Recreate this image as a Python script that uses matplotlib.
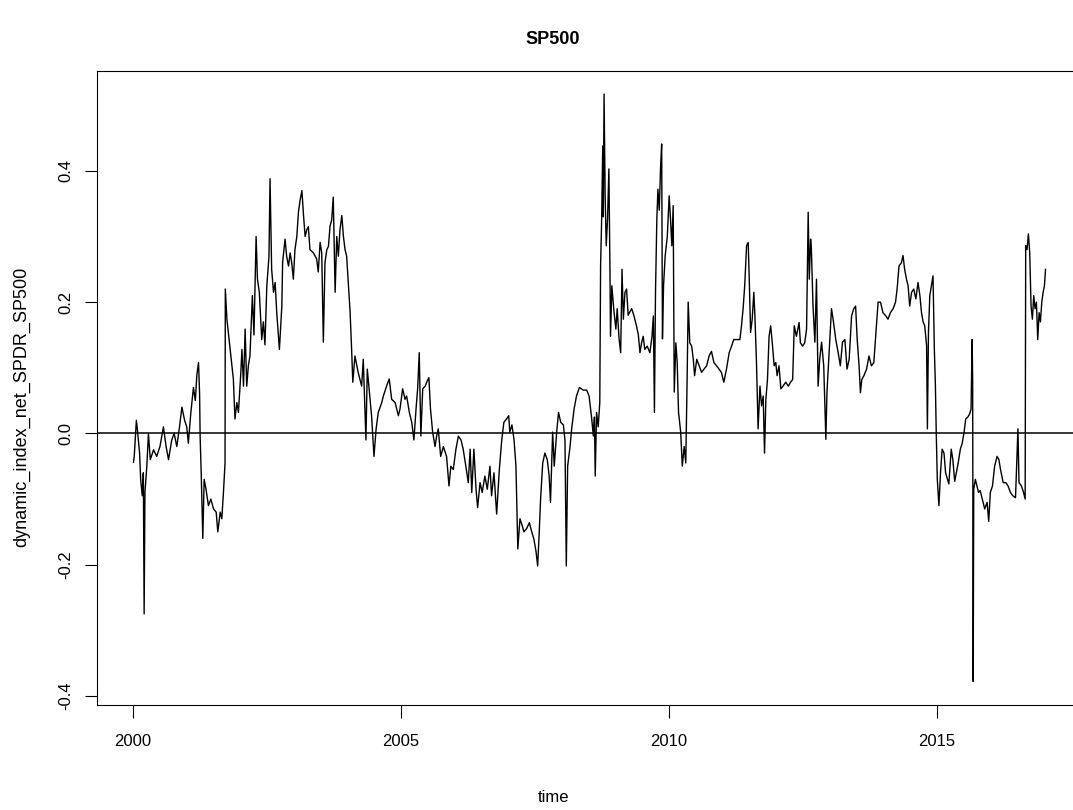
import matplotlib
matplotlib.use("Agg")
import matplotlib.pyplot as plt

plt.rcParams['font.family'] = ['Liberation Sans', 'DejaVu Sans']

# dynamic index readings (decimal year, value)
years_2000 = [2000.006, 2000.02, 2000.06, 2000.08, 2000.12, 2000.14, 2000.17, 2000.19, 2000.205, 2000.22,
              2000.255, 2000.285, 2000.32, 2000.38, 2000.44, 2000.50, 2000.565, 2000.615, 2000.66, 2000.72,
              2000.765, 2000.815, 2000.865, 2000.91, 2000.96, 2001.00, 2001.03, 2001.075, 2001.125, 2001.16,
              2001.19, 2001.22, 2001.24, 2001.25, 2001.27, 2001.30, 2001.325, 2001.36, 2001.405, 2001.45,
              2001.50, 2001.55, 2001.58, 2001.625, 2001.655, 2001.685, 2001.715]
vals_2000 = [-0.044, -0.035, 0.02, 0.005, -0.03, -0.07, -0.095, -0.06, -0.275, -0.09,
             -0.05, 0.0, -0.04, -0.025, -0.035, -0.02, 0.01, -0.02, -0.04, -0.01,
             0.0, -0.02, 0.01, 0.04, 0.02, 0.01, -0.015, 0.03, 0.07, 0.05,
             0.09, 0.108, 0.06, -0.005, -0.06, -0.16, -0.07, -0.085, -0.11, -0.10,
             -0.115, -0.12, -0.15, -0.12, -0.13, -0.09, -0.045]

years_2002 = [2001.72, 2001.75, 2001.81, 2001.87, 2001.90, 2001.935, 2001.965, 2002.01, 2002.03, 2002.06,
              2002.09, 2002.12, 2002.15, 2002.18, 2002.225, 2002.255, 2002.295, 2002.32, 2002.355, 2002.40,
              2002.43, 2002.46, 2002.495, 2002.535, 2002.555, 2002.585, 2002.62, 2002.65, 2002.68, 2002.73,
              2002.775, 2002.79, 2002.835, 2002.865, 2002.90, 2002.93, 2002.96, 2002.99, 2003.02, 2003.055,
              2003.085, 2003.115, 2003.15, 2003.18, 2003.21, 2003.24, 2003.27, 2003.30, 2003.365, 2003.425,
              2003.455, 2003.49, 2003.52, 2003.55, 2003.58, 2003.615, 2003.645, 2003.675, 2003.705, 2003.735,
              2003.77, 2003.80, 2003.83, 2003.86, 2003.895, 2003.925, 2003.955, 2003.985, 2004.015, 2004.05,
              2004.08, 2004.10, 2004.14, 2004.20]
vals_2002 = [0.22, 0.174, 0.128, 0.083, 0.022, 0.047, 0.032, 0.093, 0.128, 0.072,
             0.159, 0.072, 0.103, 0.118, 0.21, 0.15, 0.30, 0.235, 0.215, 0.143,
             0.17, 0.135, 0.225, 0.27, 0.388, 0.25, 0.215, 0.23, 0.184, 0.128,
             0.194, 0.261, 0.296, 0.27, 0.255, 0.275, 0.26, 0.235, 0.28, 0.30,
             0.337, 0.355, 0.37, 0.332, 0.30, 0.31, 0.315, 0.28, 0.275, 0.266,
             0.246, 0.291, 0.275, 0.139, 0.26, 0.28, 0.285, 0.316, 0.325, 0.36,
             0.215, 0.30, 0.27, 0.31, 0.332, 0.30, 0.28, 0.27, 0.23, 0.184,
             0.123, 0.078, 0.118, 0.093]

years_2004 = [2004.265, 2004.295, 2004.345, 2004.37, 2004.41, 2004.45, 2004.495, 2004.535, 2004.575, 2004.64,
              2004.67, 2004.73, 2004.78, 2004.825, 2004.89, 2004.95, 2004.98, 2005.03, 2005.075, 2005.105,
              2005.155, 2005.20, 2005.24, 2005.28, 2005.31, 2005.34, 2005.37, 2005.405, 2005.45, 2005.49,
              2005.52, 2005.55, 2005.59, 2005.635, 2005.665, 2005.695, 2005.74, 2005.79, 2005.85, 2005.895,
              2005.93, 2005.975, 2006.025, 2006.07, 2006.12, 2006.16, 2006.21, 2006.255, 2006.29, 2006.32,
              2006.36, 2006.40, 2006.43, 2006.475, 2006.515, 2006.565, 2006.61, 2006.66, 2006.69, 2006.735,
              2006.785, 2006.835, 2006.88, 2006.92, 2006.97, 2007.01, 2007.03, 2007.07, 2007.11, 2007.145,
              2007.18, 2007.22, 2007.26, 2007.295, 2007.345, 2007.395, 2007.44, 2007.48, 2007.52, 2007.55,
              2007.58, 2007.605, 2007.645, 2007.685, 2007.73, 2007.765, 2007.79, 2007.83, 2007.86, 2007.905,
              2007.94, 2007.98, 2008.03, 2008.06, 2008.085, 2008.11, 2008.155, 2008.185, 2008.23, 2008.275,
              2008.33]
vals_2004 = [0.072, 0.113, -0.01, 0.098, 0.063, 0.027, -0.035, 0.007, 0.032, 0.047,
             0.057, 0.072, 0.083, 0.052, 0.047, 0.027, 0.037, 0.068, 0.052, 0.057,
             0.032, 0.017, -0.01, 0.037, 0.068, 0.123, -0.004, 0.068, 0.072, 0.08,
             0.085, 0.037, 0.002, -0.02, -0.004, 0.007, -0.035, -0.02, -0.035, -0.08,
             -0.05, -0.055, -0.024, -0.004, -0.01, -0.024, -0.05, -0.075, -0.024, -0.09,
             -0.024, -0.085, -0.113, -0.075, -0.09, -0.065, -0.085, -0.05, -0.095, -0.06,
             -0.123, -0.055, -0.01, 0.017, 0.022, 0.027, 0.002, 0.013, -0.01, -0.05,
             -0.176, -0.13, -0.14, -0.15, -0.145, -0.136, -0.15, -0.161, -0.18, -0.202,
             -0.15, -0.10, -0.045, -0.03, -0.04, -0.065, -0.105, 0.002, -0.05, 0.002,
             0.032, 0.017, 0.013, -0.01, -0.202, -0.05, -0.02, 0.007, 0.037, 0.057,
             0.07]

years_2008 = [2008.40, 2008.465, 2008.51, 2008.56, 2008.59, 2008.61, 2008.625, 2008.65, 2008.68, 2008.71,
              2008.725, 2008.745, 2008.765, 2008.775, 2008.79, 2008.81, 2008.83, 2008.855, 2008.88, 2008.90,
              2008.91, 2008.935, 2008.97, 2009.01, 2009.035, 2009.07, 2009.10, 2009.125, 2009.15, 2009.18,
              2009.21, 2009.24, 2009.27, 2009.305, 2009.345, 2009.395, 2009.43, 2009.46, 2009.49, 2009.52,
              2009.55, 2009.595, 2009.645, 2009.685, 2009.71, 2009.73, 2009.75, 2009.775, 2009.795, 2009.82,
              2009.845, 2009.865, 2009.88, 2009.90, 2009.93, 2009.97, 2010.005, 2010.03, 2010.055, 2010.08,
              2010.10, 2010.13, 2010.155, 2010.18, 2010.22, 2010.25, 2010.285, 2010.315, 2010.34, 2010.36,
              2010.39, 2010.425, 2010.455, 2010.48, 2010.52, 2010.565, 2010.61, 2010.655, 2010.705, 2010.75,
              2010.795, 2010.84, 2010.89, 2010.935, 2010.98, 2011.025, 2011.075, 2011.125, 2011.17, 2011.21,
              2011.26, 2011.325, 2011.355, 2011.385, 2011.415, 2011.45, 2011.48, 2011.50, 2011.525, 2011.555,
              2011.585, 2011.605, 2011.635, 2011.665, 2011.70, 2011.73, 2011.76, 2011.785, 2011.81, 2011.84,
              2011.87, 2011.90, 2011.935, 2011.965, 2011.995, 2012.02, 2012.055, 2012.09, 2012.13, 2012.18,
              2012.23, 2012.27, 2012.31, 2012.34, 2012.38, 2012.43, 2012.455, 2012.495, 2012.535, 2012.57]
vals_2008 = [0.066, 0.066, 0.057, 0.022, -0.004, 0.025, -0.065, 0.032, 0.01, 0.047,
             0.255, 0.327, 0.438, 0.33, 0.517, 0.362, 0.286, 0.327, 0.403, 0.246,
             0.148, 0.225, 0.19, 0.159, 0.19, 0.144, 0.123, 0.25, 0.174, 0.215,
             0.22, 0.18, 0.185, 0.19, 0.18, 0.164, 0.15, 0.123, 0.138, 0.148,
             0.128, 0.133, 0.123, 0.148, 0.179, 0.032, 0.215, 0.327, 0.372, 0.34,
             0.406, 0.441, 0.144, 0.225, 0.27, 0.30, 0.362, 0.327, 0.286, 0.347,
             0.063, 0.138, 0.108, 0.032, 0.002, -0.05, -0.02, -0.045, 0.082, 0.20,
             0.138, 0.133, 0.113, 0.088, 0.113, 0.103, 0.093, 0.098, 0.103, 0.118,
             0.125, 0.108, 0.103, 0.098, 0.093, 0.078, 0.098, 0.123, 0.133, 0.143,
             0.143, 0.143, 0.164, 0.19, 0.225, 0.286, 0.291, 0.235, 0.154, 0.174,
             0.215, 0.18, 0.108, 0.007, 0.072, 0.042, 0.057, -0.03, 0.052, 0.082,
             0.148, 0.164, 0.133, 0.103, 0.108, 0.088, 0.103, 0.068, 0.072, 0.078,
             0.072, 0.078, 0.082, 0.164, 0.148, 0.169, 0.138, 0.133, 0.138, 0.159]

years_2012 = [2012.60, 2012.62, 2012.645, 2012.66, 2012.69, 2012.725, 2012.755, 2012.785, 2012.815, 2012.85,
              2012.89, 2012.93, 2012.95, 2012.99, 2013.035, 2013.065, 2013.115, 2013.16, 2013.20, 2013.24,
              2013.285, 2013.325, 2013.365, 2013.41, 2013.45, 2013.485, 2013.515, 2013.55, 2013.575, 2013.60,
              2013.64, 2013.69, 2013.735, 2013.78, 2013.825, 2013.86, 2013.905, 2013.95, 2013.995, 2014.05,
              2014.09, 2014.135, 2014.185, 2014.23, 2014.26, 2014.295, 2014.34, 2014.37, 2014.40, 2014.435,
              2014.465, 2014.495, 2014.53, 2014.57, 2014.61, 2014.65, 2014.685, 2014.715, 2014.745, 2014.775,
              2014.81, 2014.825, 2014.845, 2014.87, 2014.90, 2014.93, 2014.955, 2014.975, 2014.99, 2015.01,
              2015.04, 2015.07, 2015.10, 2015.135, 2015.165, 2015.20, 2015.225, 2015.27, 2015.30, 2015.335,
              2015.365, 2015.40, 2015.44, 2015.475, 2015.51, 2015.54, 2015.58, 2015.615, 2015.64, 2015.66,
              2015.67, 2015.68, 2015.69, 2015.72, 2015.75, 2015.78, 2015.81, 2015.85, 2015.895, 2015.94,
              2015.97, 2016.00, 2016.04, 2016.08, 2016.125, 2016.16, 2016.19, 2016.24, 2016.29, 2016.33,
              2016.375, 2016.42, 2016.47, 2016.515, 2016.535, 2016.58, 2016.62, 2016.65, 2016.66, 2016.685,
              2016.71, 2016.735, 2016.76, 2016.785, 2016.81, 2016.835, 2016.86, 2016.885, 2016.91, 2016.935,
              2016.96, 2016.985, 2017.01, 2017.03]
vals_2012 = [0.337, 0.235, 0.296, 0.28, 0.194, 0.139, 0.235, 0.072, 0.113, 0.139,
             0.103, -0.009, 0.062, 0.123, 0.19, 0.174, 0.143, 0.123, 0.103, 0.139,
             0.143, 0.098, 0.113, 0.179, 0.19, 0.194, 0.143, 0.103, 0.062, 0.082,
             0.088, 0.098, 0.118, 0.103, 0.108, 0.149, 0.20, 0.20, 0.184, 0.179,
             0.174, 0.184, 0.19, 0.20, 0.22, 0.255, 0.26, 0.271, 0.25, 0.235,
             0.225, 0.194, 0.215, 0.22, 0.205, 0.23, 0.21, 0.184, 0.17, 0.164,
             0.134, 0.007, 0.154, 0.21, 0.225, 0.24, 0.128, 0.072, 0.002, -0.07,
             -0.11, -0.06, -0.024, -0.03, -0.06, -0.07, -0.077, -0.024, -0.04, -0.073,
             -0.06, -0.045, -0.024, -0.015, 0.002, 0.022, 0.025, 0.03, 0.037, 0.143,
             0.082, -0.378, -0.085, -0.07, -0.08, -0.09, -0.087, -0.10, -0.115, -0.105,
             -0.134, -0.09, -0.08, -0.05, -0.035, -0.04, -0.055, -0.075, -0.075, -0.08,
             -0.09, -0.095, -0.098, 0.007, -0.075, -0.08, -0.09, -0.10, 0.286, 0.28,
             0.304, 0.276, 0.194, 0.174, 0.21, 0.19, 0.20, 0.143, 0.184, 0.17,
             0.20, 0.215, 0.225, 0.25]

time = years_2000 + years_2002 + years_2004 + years_2008 + years_2012
index_vals = vals_2000 + vals_2002 + vals_2004 + vals_2008 + vals_2012

W, H = 1073, 810
fig = plt.figure(figsize=(W / 100, H / 100), dpi=100)
# plot region runs past the right edge of the picture, as in the original
ax = fig.add_axes([97 / W, (H - 705) / H, (1082 - 97) / W, (705 - 70.6) / H])

ax.plot(time, index_vals, color='black', lw=1.0)
ax.axhline(0, color='black', lw=1.1)
ax.margins(x=0.04, y=0.04)

ax.set_xticks([2000, 2005, 2010, 2015])
ax.set_yticks([-0.4, -0.2, 0.0, 0.2, 0.4])
ax.set_yticklabels(['-0.4', '-0.2', '0.0', '0.2', '0.4'], rotation=90, va='center')
ax.tick_params(direction='out', length=9, width=0.8, labelsize=12, colors='black', pad=12)
ax.tick_params(axis='y', pad=8)
for s in ax.spines.values():
    s.set_linewidth(0.8)

fig.text(553 / W, 1 - 40 / H, 'SP500', ha='center', va='center', fontsize=13, fontweight='bold')
fig.text(553 / W, 1 - 797 / H, 'time', ha='center', va='center', fontsize=12)
fig.text(22 / W, 1 - 407 / H, 'dynamic_index_net_SPDR_SP500', ha='center', va='center',
         rotation=90, fontsize=13)

fig.savefig('out.png', dpi=100)
